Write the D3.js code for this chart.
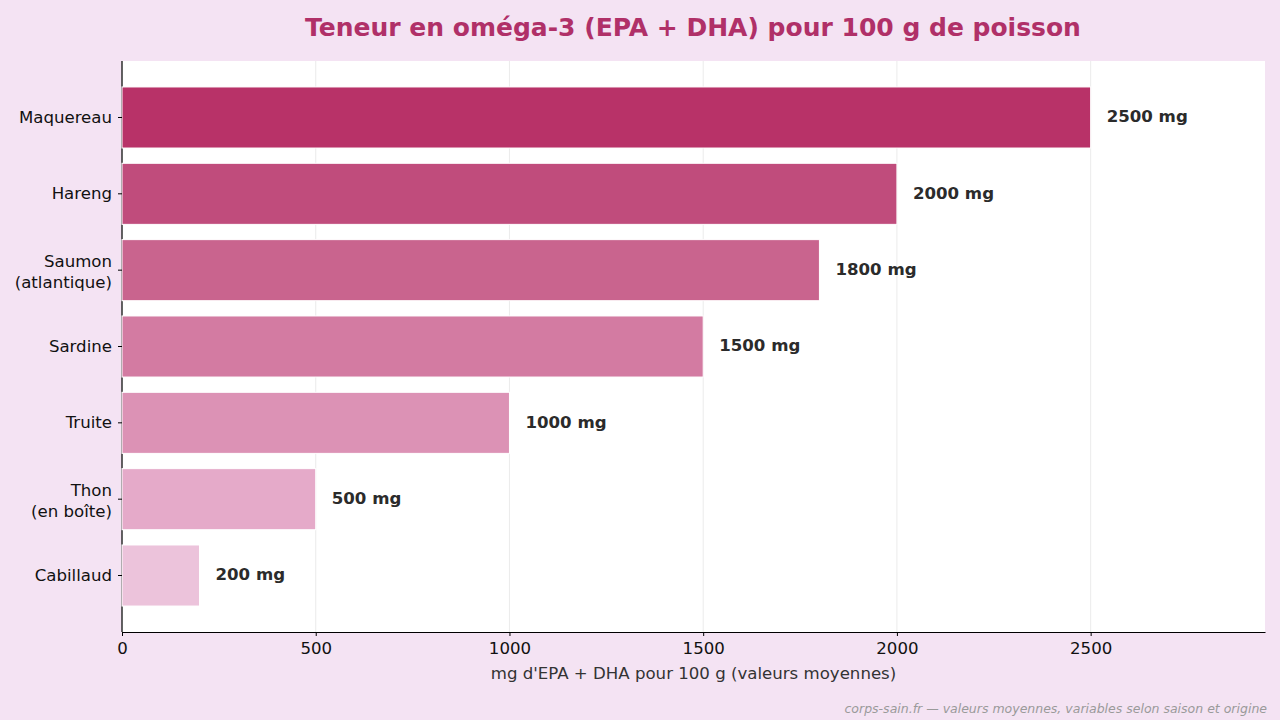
<!DOCTYPE html>
<html>
<head>
<meta charset="utf-8">
<script src="https://cdn.jsdelivr.net/npm/d3@7"></script>
<style>
  body { margin: 0; background: #f4e3f3; }
  svg { display: block; font-family: "DejaVu Sans", sans-serif; }
</style>
</head>
<body>
<svg id="chart"></svg>
<script>
// data
let fishes = [['Maquereau'], ['Hareng'], ['Saumon', '(atlantique)'], ['Sardine'], ['Truite'], ['Thon', '(en boîte)'], ['Cabillaud']];
let values = [2500, 2000, 1800, 1500, 1000, 500, 200];
let barColors = ['#b83268', '#c04c7c', '#c9648e', '#d37ba2', '#dc92b5', '#e5aac9', '#ecc3db'];
let xTicks = [0, 500, 1000, 1500, 2000, 2500];

let width = 1280;
let height = 720;
let margin = { top: 61, right: 15, bottom: 88, left: 122 };

let svg = d3.select('#chart')
    .attr('width', width)
    .attr('height', height);

svg.append('rect')
    .attr('width', width)
    .attr('height', height)
    .attr('fill', '#f4e3f3');

let plotW = width - margin.left - margin.right;
let plotH = height - margin.top - margin.bottom;

let g = svg.append('g')
    .attr('transform', 'translate(' + margin.left + ',' + margin.top + ')');

g.append('rect')
    .attr('width', plotW)
    .attr('height', plotH)
    .attr('fill', '#ffffff');

let xScale = d3.scaleLinear()
    .domain([0, 2950])
    .range([0, plotW]);

// matplotlib-like barh: centers at 0..6, bars +/-0.4, 5% margins
let yScale = d3.scaleLinear()
    .domain([-0.74, 6.74])
    .range([0, plotH]);

// grid
g.selectAll('.grid')
    .data(xTicks)
    .enter()
    .append('line')
    .attr('x1', d => xScale(d))
    .attr('x2', d => xScale(d))
    .attr('y1', 0)
    .attr('y2', plotH)
    .attr('stroke', '#e6e6e6')
    .attr('stroke-width', 0.8);

// left spine (sits under the bars)
g.append('line')
    .attr('x1', 0).attr('x2', 0)
    .attr('y1', 0).attr('y2', plotH)
    .attr('stroke', '#000')
    .attr('stroke-width', 1.2);

g.selectAll('.bar')
    .data(values)
    .enter()
    .append('rect')
    .attr('x', xScale(0))
    .attr('y', (d, i) => yScale(i - 0.4))
    .attr('width', d => xScale(d) - xScale(0))
    .attr('height', yScale(0.8) - yScale(0))
    .attr('fill', (d, i) => barColors[i])
    .attr('stroke', '#ffffff')
    .attr('stroke-width', 1);

g.selectAll('.val')
    .data(values)
    .enter()
    .append('text')
    .attr('x', d => xScale(d) + 16)
    .attr('y', (d, i) => yScale(i))
    .attr('dy', '0.3em')
    .attr('font-size', 16.6)
    .attr('font-weight', 'bold')
    .attr('fill', '#2b2b2b')
    .text(d => d + ' mg');

// x axis
let xAxis = d3.axisBottom(xScale)
    .tickValues(xTicks)
    .tickSizeInner(4)
    .tickSizeOuter(0)
    .tickPadding(6)
    .tickFormat(d3.format('d'));

let xg = g.append('g')
    .attr('transform', 'translate(0,' + plotH + ')')
    .call(xAxis);
xg.select('.domain').attr('stroke', '#000').attr('stroke-width', 1.2);
xg.selectAll('text').attr('font-size', 16.6).attr('fill', '#111').attr('font-family', '"DejaVu Sans", sans-serif');

// y ticks and labels
let yg = g.append('g');
yg.selectAll('.tick')
    .data(fishes)
    .enter()
    .append('line')
    .attr('x1', -4)
    .attr('x2', 0)
    .attr('y1', (d, i) => yScale(i))
    .attr('y2', (d, i) => yScale(i))
    .attr('stroke', '#000');

yg.selectAll('.lab')
    .data(fishes)
    .enter()
    .append('text')
    .attr('x', -10)
    .attr('y', (d, i) => yScale(i))
    .attr('text-anchor', 'end')
    .attr('font-size', 16.6)
    .attr('fill', '#111')
    .each(function(d) {
        let t = d3.select(this);
        let off = -(d.length - 1) * 0.5 * 1.27 + (d.length > 1 ? 0.45 : 0.33);
        d.forEach((line, k) => {
            t.append('tspan')
                .attr('x', -10)
                .attr('dy', (k === 0 ? off : 1.27) + 'em')
                .text(line);
        });
    });

// title
svg.append('text')
    .attr('x', 693)
    .attr('y', 27)
    .attr('dy', '0.35em')
    .attr('text-anchor', 'middle')
    .attr('font-size', 25)
    .attr('font-weight', 'bold')
    .attr('fill', '#b03068')
    .text('Teneur en oméga-3 (EPA + DHA) pour 100 g de poisson');

// x label
svg.append('text')
    .attr('x', margin.left + plotW / 2)
    .attr('y', 673)
    .attr('dy', '0.35em')
    .attr('text-anchor', 'middle')
    .attr('font-size', 16.6)
    .attr('fill', '#333')
    .text("mg d'EPA + DHA pour 100 g (valeurs moyennes)");

// source note
svg.append('text')
    .attr('x', 1267)
    .attr('y', 709)
    .attr('dy', '0.35em')
    .attr('text-anchor', 'end')
    .attr('font-size', 12.5)
    .attr('font-style', 'italic')
    .attr('fill', '#9a9a9a')
    .text('corps-sain.fr — valeurs moyennes, variables selon saison et origine');
</script>
</body>
</html>
